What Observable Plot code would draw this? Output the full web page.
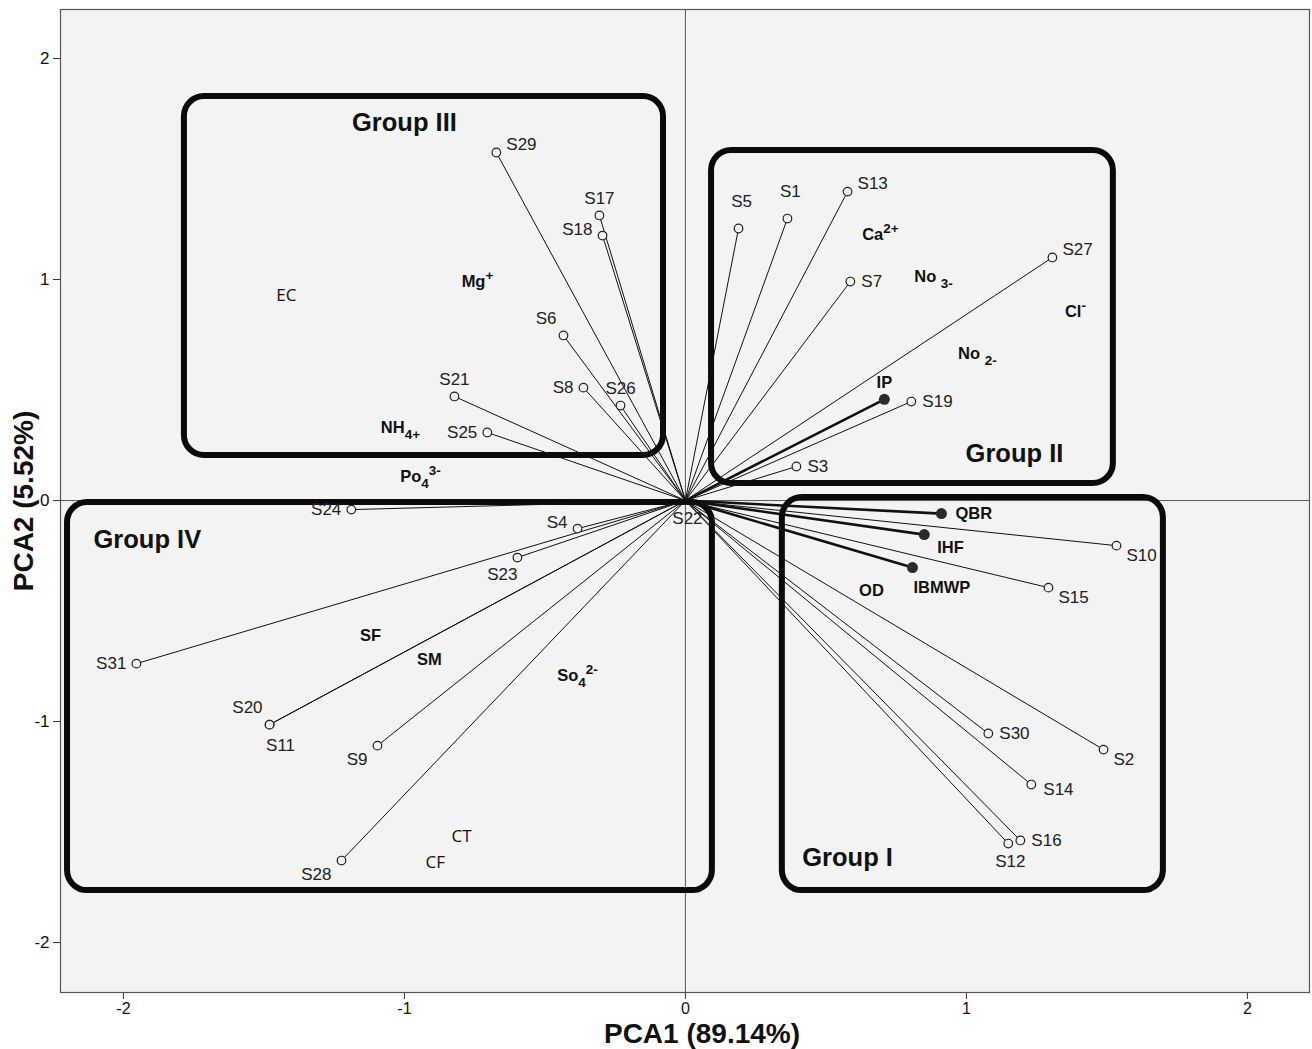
<!DOCTYPE html>
<html>
<head>
<meta charset="utf-8">
<script src="https://cdn.jsdelivr.net/npm/d3@7"></script>
<script src="https://cdn.jsdelivr.net/npm/@observablehq/plot@0.6"></script>
<style>
html,body{margin:0;padding:0;background:#fff;}
#chart svg{display:block;}
</style>
</head>
<body>
<div id="chart"></div>
<script>
// ---- Data ----
const sampleNames = ["S1","S2","S3","S4","S5","S6","S7","S8","S9","S10","S11","S12","S13","S14","S15","S16","S17","S18","S19","S20","S21","S22","S23","S24","S25","S26","S27","S28","S29","S30","S31"];
const sampleX = [0.363, 1.488, 0.395, -0.384, 0.189, -0.434, 0.587, -0.363, -1.096, 1.534, -1.480, 1.149, 0.577, 1.231, 1.292, 1.192, -0.306, -0.295, 0.804, -1.480, -0.822, 0, -0.598, -1.189, -0.705, -0.231, 1.306, -1.224, -0.673, 1.078, -1.954];
const sampleY = [1.276, -1.127, 0.154, -0.127, 1.231, 0.747, 0.991, 0.511, -1.109, -0.204, -1.014, -1.552, 1.398, -1.285, -0.394, -1.538, 1.290, 1.199, 0.448, -1.014, 0.471, 0, -0.258, -0.041, 0.308, 0.430, 1.100, -1.629, 1.575, -1.054, -0.738];
const sampleSide = ["nn","se","e","wn","nn","nw","e","w","sw","se","sr","s","ne","es","se","e","n","wn","e","nw","n","s","sl","w","w","n","ne","sw","ne","e","w"];

const indexNames = ["IP","QBR","IHF","IBMWP"];
const indexX = [0.708, 0.911, 0.850, 0.808];
const indexY = [0.458, -0.059, -0.154, -0.303];
const indexSide = ["n","E","sE","ss"];

const termNames = ["EC","Mg^{+}","NH_{4+}","Po_{4}^{3-}","Ca^{2+}","No _{3-}","Cl^{-}","No _{2-}","OD","SF","SM","So_{4}^{2-}","CT","CF"];
const termX = [-1.420, -0.740, -1.014, -0.943, 0.694, 0.883, 1.388, 1.039, 0.662, -1.121, -0.911, -0.384, -0.797, -0.890];
const termY = [0.928, 0.991, 0.330, 0.109, 1.204, 1.014, 0.855, 0.665, -0.407, -0.611, -0.719, -0.792, -1.520, -1.638];

const groupNames = ["Group I","Group II","Group III","Group IV"];
const groupX1 = [0.345, 0.093, -1.783, -2.199];
const groupX2 = [1.701, 1.523, -0.078, 0.096];
const groupY1 = [0.014, 1.584, 1.828, -0.009];
const groupY2 = [-1.765, 0.077, 0.204, -1.765];
const groupLabelX = [0.577, 1.171, -1.000, -1.915];
const groupLabelY = [-1.615, 0.213, 1.710, -0.176];

const xTicks = [-2, -1, 0, 1, 2];
const yTicks = [-2, -1, 0, 1, 2];
const xTitle = "PCA1 (89.14%)";
const yTitle = "PCA2 (5.52%)";

// ---- Build tables ----
const samples = sampleNames.map((name, i) => ({name, x: sampleX[i], y: sampleY[i], side: sampleSide[i]}));
const indices = indexNames.map((name, i) => ({name, x: indexX[i], y: indexY[i], side: indexSide[i]}));
const terms = termNames.map((name, i) => ({name, x: termX[i], y: termY[i]}));
const groups = groupNames.map((name, i) => ({name, x1: groupX1[i], x2: groupX2[i], y1: groupY1[i], y2: groupY2[i], lx: groupLabelX[i], ly: groupLabelY[i]}));

const offsets = {
  n: [0, -17, "middle"], nn: [3, -27, "middle"], s: [2, 18, "middle"], sl: [-15, 17, "middle"], sr: [11, 21, "middle"],
  e: [11, 0, "start"], E: [14, 0, "start"], ne: [10, -8, "start"], se: [10, 10, "start"], sE: [13, 13, "start"], es: [12, 5, "start"],
  w: [-10, 0, "end"], wn: [-10, -6, "end"], nw: [-7, -17, "end"], sw: [-10, 14, "end"], ss: [1, 20, "start"]
};

const FONT = "'Liberation Sans', Arial, Helvetica, sans-serif";
const regularTerms = new Set(["EC", "CT", "CF"]);

function sideLabels(data, opts) {
  return Object.keys(offsets).map(k => {
    const [dx, dy, anchor] = offsets[k];
    return Plot.text(data.filter(d => d.side === k), {x: "x", y: "y", text: "name", dx, dy, textAnchor: anchor, ...opts});
  });
}

const plot = Plot.plot({
  width: 1312,
  height: 1049,
  marginLeft: 60,
  marginRight: 3,
  marginTop: 9,
  marginBottom: 57,
  x: {domain: [-2.224, 2.221]},
  y: {domain: [-2.226, 2.222]},
  style: {fontFamily: FONT, background: "#fff", color: "#111"},
  marks: [
    Plot.frame({fill: "#f3f3f3", stroke: "none"}),
    Plot.ruleX([0], {stroke: "#555", strokeWidth: 1}),
    Plot.ruleY([0], {stroke: "#555", strokeWidth: 1}),
    Plot.rect(groups, {x1: "x1", x2: "x2", y1: "y1", y2: "y2", rx: 20, ry: 20, fill: "none", stroke: "#0a0a0a", strokeWidth: 6}),
    Plot.link(samples, {x1: () => 0, y1: () => 0, x2: "x", y2: "y", stroke: "#111", strokeWidth: 1}),
    Plot.link(indices, {x1: () => 0, y1: () => 0, x2: "x", y2: "y", stroke: "#111", strokeWidth: 2.6}),
    Plot.dot(samples.filter(d => d.name !== "S22"), {x: "x", y: "y", r: 4.3, stroke: "#222", strokeWidth: 1.2, fill: "#f3f3f3"}),
    Plot.dot(indices, {x: "x", y: "y", r: 5.5, fill: "#2a2a2a", stroke: "none"}),
    ...sideLabels(samples, {fontSize: 17, fill: "#222"}),
    ...sideLabels(indices, {fontSize: 16.5, fontWeight: "bold", fill: "#111"}),
    Plot.text(terms.filter(d => !regularTerms.has(d.name)), {x: "x", y: "y", text: "name", fontSize: 16.5, fontWeight: "bold", fill: "#111"}),
    Plot.text(terms.filter(d => regularTerms.has(d.name)), {x: "x", y: "y", text: "name", fontSize: 17, fontFamily: "'Open Sans', 'Liberation Sans', sans-serif", fill: "#111"}),
    Plot.text(groups, {x: "lx", y: "ly", text: "name", fontSize: 25.5, fontWeight: "bold", fill: "#111"}),
    Plot.axisX(xTicks, {tickFormat: d => String(d), tickSize: 7, tickPadding: 3, fontSize: 16, label: null, stroke: "#333"}),
    Plot.axisY(yTicks, {tickFormat: d => String(d), tickSize: 7, tickPadding: 4, fontSize: 17, label: null, stroke: "#333"}),
    Plot.text([xTitle], {text: d => d, frameAnchor: "bottom", lineAnchor: "middle", textAnchor: "middle", dx: 17, dy: 42, fontSize: 28, fontWeight: "bold", fill: "#111"}),
    Plot.text([yTitle], {text: d => d, frameAnchor: "left", lineAnchor: "middle", textAnchor: "middle", dx: -36, rotate: -90, fontSize: 28, fontWeight: "bold", fill: "#111"}),
    Plot.frame({stroke: "#555", strokeWidth: 1.2})
  ]
});

// Sub/superscript rendering for chemical labels
const NS = "http://www.w3.org/2000/svg";
plot.querySelectorAll("text").forEach(t => {
  const s = t.textContent;
  if (!/[_^]\{/.test(s)) return;
  const parts = [];
  const re = /([_^])\{([^}]*)\}/g;
  let last = 0, m;
  while ((m = re.exec(s))) {
    if (m.index > last) parts.push([s.slice(last, m.index), 0]);
    parts.push([m[2], m[1] === "_" ? 1 : -1]);
    last = re.lastIndex;
  }
  if (last < s.length) parts.push([s.slice(last), 0]);
  while (t.firstChild) t.removeChild(t.firstChild);
  let cur = 0;
  parts.forEach(([str, lev]) => {
    const ts = document.createElementNS(NS, "tspan");
    const target = lev === 1 ? 6 : lev === -1 ? -7 : 0;
    if (target !== cur) ts.setAttribute("dy", target - cur);
    cur = target;
    if (lev !== 0) ts.setAttribute("font-size", "13.5");
    ts.textContent = str;
    t.appendChild(ts);
  });
});

document.getElementById("chart").appendChild(plot);
</script>
</body>
</html>
